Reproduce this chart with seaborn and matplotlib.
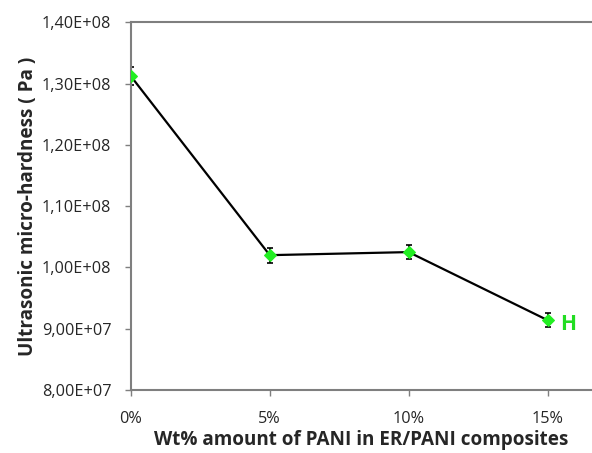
import numpy as np
import pandas as pd
import matplotlib
matplotlib.use("Agg")
import matplotlib.pyplot as plt
import seaborn as sns
from matplotlib.ticker import FuncFormatter

# datos
wt_pct = [0, 5, 10, 15]
tick_labels = ["0%", "5%", "10%", "15%"]
hardness = [1.312e8, 1.020e8, 1.025e8, 9.14e7]
hardness_err = [1.5e6, 1.2e6, 1.2e6, 1.1e6]

sns.set_style("white")
plt.rcParams['font.family'] = ['Open Sans', 'DejaVu Sans']

df = pd.DataFrame({"wt": wt_pct, "h": hardness})

fig = plt.figure(figsize=(5.92, 4.53), dpi=100)
ax = fig.add_axes([0.221, 0.139, 0.779, 0.812])

ax.errorbar(wt_pct, hardness, yerr=hardness_err, fmt='none', ecolor='black',
            elinewidth=1.2, capsize=2.5, capthick=1.2, zorder=2)
sns.lineplot(data=df, x="wt", y="h", color='black', linewidth=1.6, ax=ax,
             marker='D', markersize=6, markerfacecolor='#22ee22',
             markeredgecolor='#22ee22', zorder=3)

ax.text(wt_pct[-1] + 0.45, hardness[-1] - 0.07e7, "H", color='#22dd22',
        fontsize=15, fontweight='bold', va='center', ha='left')

ax.set_xlim(0, 16.6)
ax.set_ylim(8e7, 1.4e8)
ax.set_xticks(wt_pct)
ax.set_xticklabels(tick_labels)
ax.set_yticks(np.arange(8e7, 1.41e8, 1e7))
ax.yaxis.set_major_formatter(FuncFormatter(lambda v, p: f"{v:.2E}".replace('.', ',')))

for side in ['left', 'bottom', 'top']:
    ax.spines[side].set_color('#7f7f7f')
    ax.spines[side].set_linewidth(1.5)
ax.spines['right'].set_visible(False)

ax.tick_params(axis='both', which='major', direction='out', length=4,
               width=1, color='#7f7f7f', labelsize=11.7,
               left=True, bottom=True)
ax.tick_params(axis='y', pad=10)
ax.tick_params(axis='x', pad=11)

ax.set_xlabel("Wt% amount of PANI in ER/PANI composites", fontsize=13.6,
              fontweight='bold', labelpad=2)
ax.set_ylabel("Ultrasonic micro-hardness ( Pa )", fontsize=13.6,
              fontweight='bold', labelpad=3)

fig.savefig("out.png", dpi=100)
